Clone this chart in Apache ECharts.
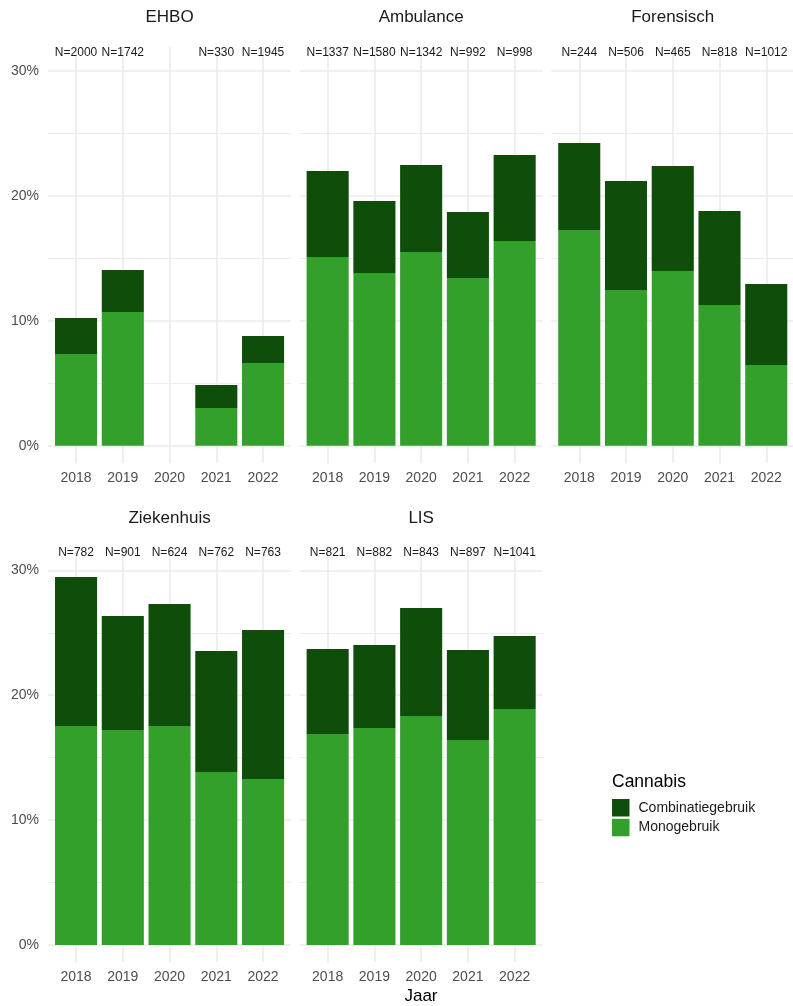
<!DOCTYPE html>
<html>
<head>
<meta charset="utf-8">
<script src="https://cdn.jsdelivr.net/npm/echarts@6/dist/echarts.min.js"></script>
<style>
html,body{margin:0;padding:0;background:#fff;}
#chart{width:793px;height:1006px;}
</style>
</head>
<body>
<div id="chart"></div>
<script>
// ---- data ----
const years = ['2018', '2019', '2020', '2021', '2022'];
const panels = ['EHBO', 'Ambulance', 'Forensisch', 'Ziekenhuis', 'LIS'];
const yTicks = [0, 10, 20, 30];

// Monogebruik (%) per panel
const monoEHBO       = [7.34, 10.70, null, 3.02, 6.62];
const monoAmbulance  = [15.11, 13.83, 15.51, 13.43, 16.39];
const monoForensisch = [17.27, 12.46, 13.99, 11.26, 6.46];
const monoZiekenhuis = [17.54, 17.22, 17.54, 13.85, 13.29];
const monoLIS        = [16.89, 17.37, 18.33, 16.41, 18.90];

// Combinatiegebruik (%) per panel
const combiEHBO       = [2.88, 3.36, null, 1.84, 2.16];
const combiAmbulance  = [6.88, 5.76, 6.96, 5.28, 6.88];
const combiForensisch = [6.96, 8.73, 8.40, 7.53, 6.48];
const combiZiekenhuis = [11.93, 9.12, 9.76, 9.69, 11.93];
const combiLIS        = [6.81, 6.65, 8.65, 7.21, 5.84];

// N per panel
const nEHBO       = [2000, 1742, null, 330, 1945];
const nAmbulance  = [1337, 1580, 1342, 992, 998];
const nForensisch = [244, 506, 465, 818, 1012];
const nZiekenhuis = [782, 901, 624, 762, 763];
const nLIS        = [821, 882, 843, 897, 1041];

const monoAll = [monoEHBO, monoAmbulance, monoForensisch, monoZiekenhuis, monoLIS];
const combiAll = [combiEHBO, combiAmbulance, combiForensisch, combiZiekenhuis, combiLIS];
const nAll = [nEHBO, nAmbulance, nForensisch, nZiekenhuis, nLIS];

// ---- layout / style ----
const FONT = 'Liberation Sans, Arial, Helvetica, sans-serif';
const C_MONO = '#33a02c';
const C_COMBI = '#0f4d0b';
const GRID_C = '#ebebeb';
const u = 46.75;
const panelW = 5.2 * u;
const panelLefts = [48, 299.6, 551.2];
const barTop = [71, 570.33];
const barH = 374.67;
const vTop = [47, 546.3];
const vBot = [463.3, 962];
const titleY = [17, 518];

const chart = echarts.init(document.getElementById('chart'), null, {renderer: 'canvas'});
const option = {
  animation: false,
  backgroundColor: '#ffffff',
  textStyle: {fontFamily: FONT},
  grid: [], xAxis: [], yAxis: [], series: [], graphic: [],
  legend: {
    orient: 'vertical', left: 612, top: 799, padding: 0,
    itemWidth: 17.5, itemHeight: 17.5, itemGap: 2.3, icon: 'rect',
    data: ['Combinatiegebruik', 'Monogebruik'],
    textStyle: {fontSize: 14, color: '#1a1a1a', fontFamily: FONT, padding: [0, 0, 0, 4]}
  }
};

panels.forEach((name, p) => {
  const col = p % 3, row = Math.floor(p / 3);
  const L = panelLefts[col];

  // grid A: horizontal gridlines and y labels
  const gA = option.grid.length;
  option.grid.push({left: L, top: barTop[row], width: panelW, height: barH});
  option.xAxis.push({gridIndex: gA, type: 'value', min: 0, max: 1, show: false});
  option.yAxis.push({
    gridIndex: gA, type: 'value', min: 0, max: yTicks[yTicks.length - 1], interval: 10,
    axisLine: {show: false}, axisTick: {show: false},
    axisLabel: {show: col === 0, formatter: '{value}%', color: '#4d4d4d', fontSize: 14, margin: 9, fontFamily: FONT},
    splitLine: {show: true, lineStyle: {color: GRID_C, width: 1.6}},
    minorTick: {show: false, splitNumber: 2},
    minorSplitLine: {show: true, lineStyle: {color: '#ededed', width: 1.2}}
  });

  // grid B: vertical gridlines at category centres
  const gB = option.grid.length;
  option.grid.push({left: L + 0.6 * u, top: vTop[row], width: 4 * u, height: vBot[row] - vTop[row]});
  option.xAxis.push({
    gridIndex: gB, type: 'category', data: years, boundaryGap: false,
    axisLine: {show: false}, axisTick: {show: false}, axisLabel: {show: false, interval: 0},
    splitLine: {show: true, interval: 0, lineStyle: {color: GRID_C, width: 1.6}}
  });
  option.yAxis.push({gridIndex: gB, type: 'value', show: false, splitLine: {show: false}});

  // grid C: bars
  const gC = option.grid.length;
  option.grid.push({left: L + 0.1 * u, top: barTop[row], width: 5 * u, height: barH});
  const xi = option.xAxis.length;
  option.xAxis.push({
    gridIndex: gC, type: 'category', data: years, position: 'bottom',
    axisLine: {show: false}, axisTick: {show: false}, splitLine: {show: false},
    axisLabel: {color: '#4d4d4d', fontSize: 14, margin: 25.5, interval: 0, fontFamily: FONT}
  });
  option.xAxis.push({
    gridIndex: gC, type: 'category', position: 'top',
    data: nAll[p].map(n => n == null ? '' : 'N=' + n),
    axisLine: {show: false}, axisTick: {show: false}, splitLine: {show: false},
    axisLabel: {color: '#1a1a1a', fontSize: 12, margin: 12, interval: 0, fontFamily: FONT}
  });
  const yi = option.yAxis.length;
  option.yAxis.push({gridIndex: gC, type: 'value', min: 0, max: 30, show: false, splitLine: {show: false}});

  option.series.push({
    name: 'Monogebruik', type: 'bar', stack: 's' + p, xAxisIndex: xi, yAxisIndex: yi,
    data: monoAll[p], barWidth: '90%', itemStyle: {color: C_MONO}
  });
  option.series.push({
    name: 'Combinatiegebruik', type: 'bar', stack: 's' + p, xAxisIndex: xi, yAxisIndex: yi,
    data: combiAll[p], barWidth: '90%', itemStyle: {color: C_COMBI}
  });

  // strip title
  option.graphic.push({
    type: 'text', x: L + panelW / 2, y: titleY[row] + 0.5,
    style: {text: name, fill: '#1a1a1a', font: '17px ' + FONT, textAlign: 'center', textVerticalAlign: 'middle'}
  });
});

option.graphic.push({
  type: 'text', x: 421, y: 996.5,
  style: {text: 'Jaar', fill: '#000000', font: '17px ' + FONT, textAlign: 'center', textVerticalAlign: 'middle'}
});
option.graphic.push({
  type: 'text', x: 612, y: 782.5,
  style: {text: 'Cannabis', fill: '#000000', font: '17.5px ' + FONT, textAlign: 'left', textVerticalAlign: 'middle'}
});

chart.setOption(option);
</script>
</body>
</html>
